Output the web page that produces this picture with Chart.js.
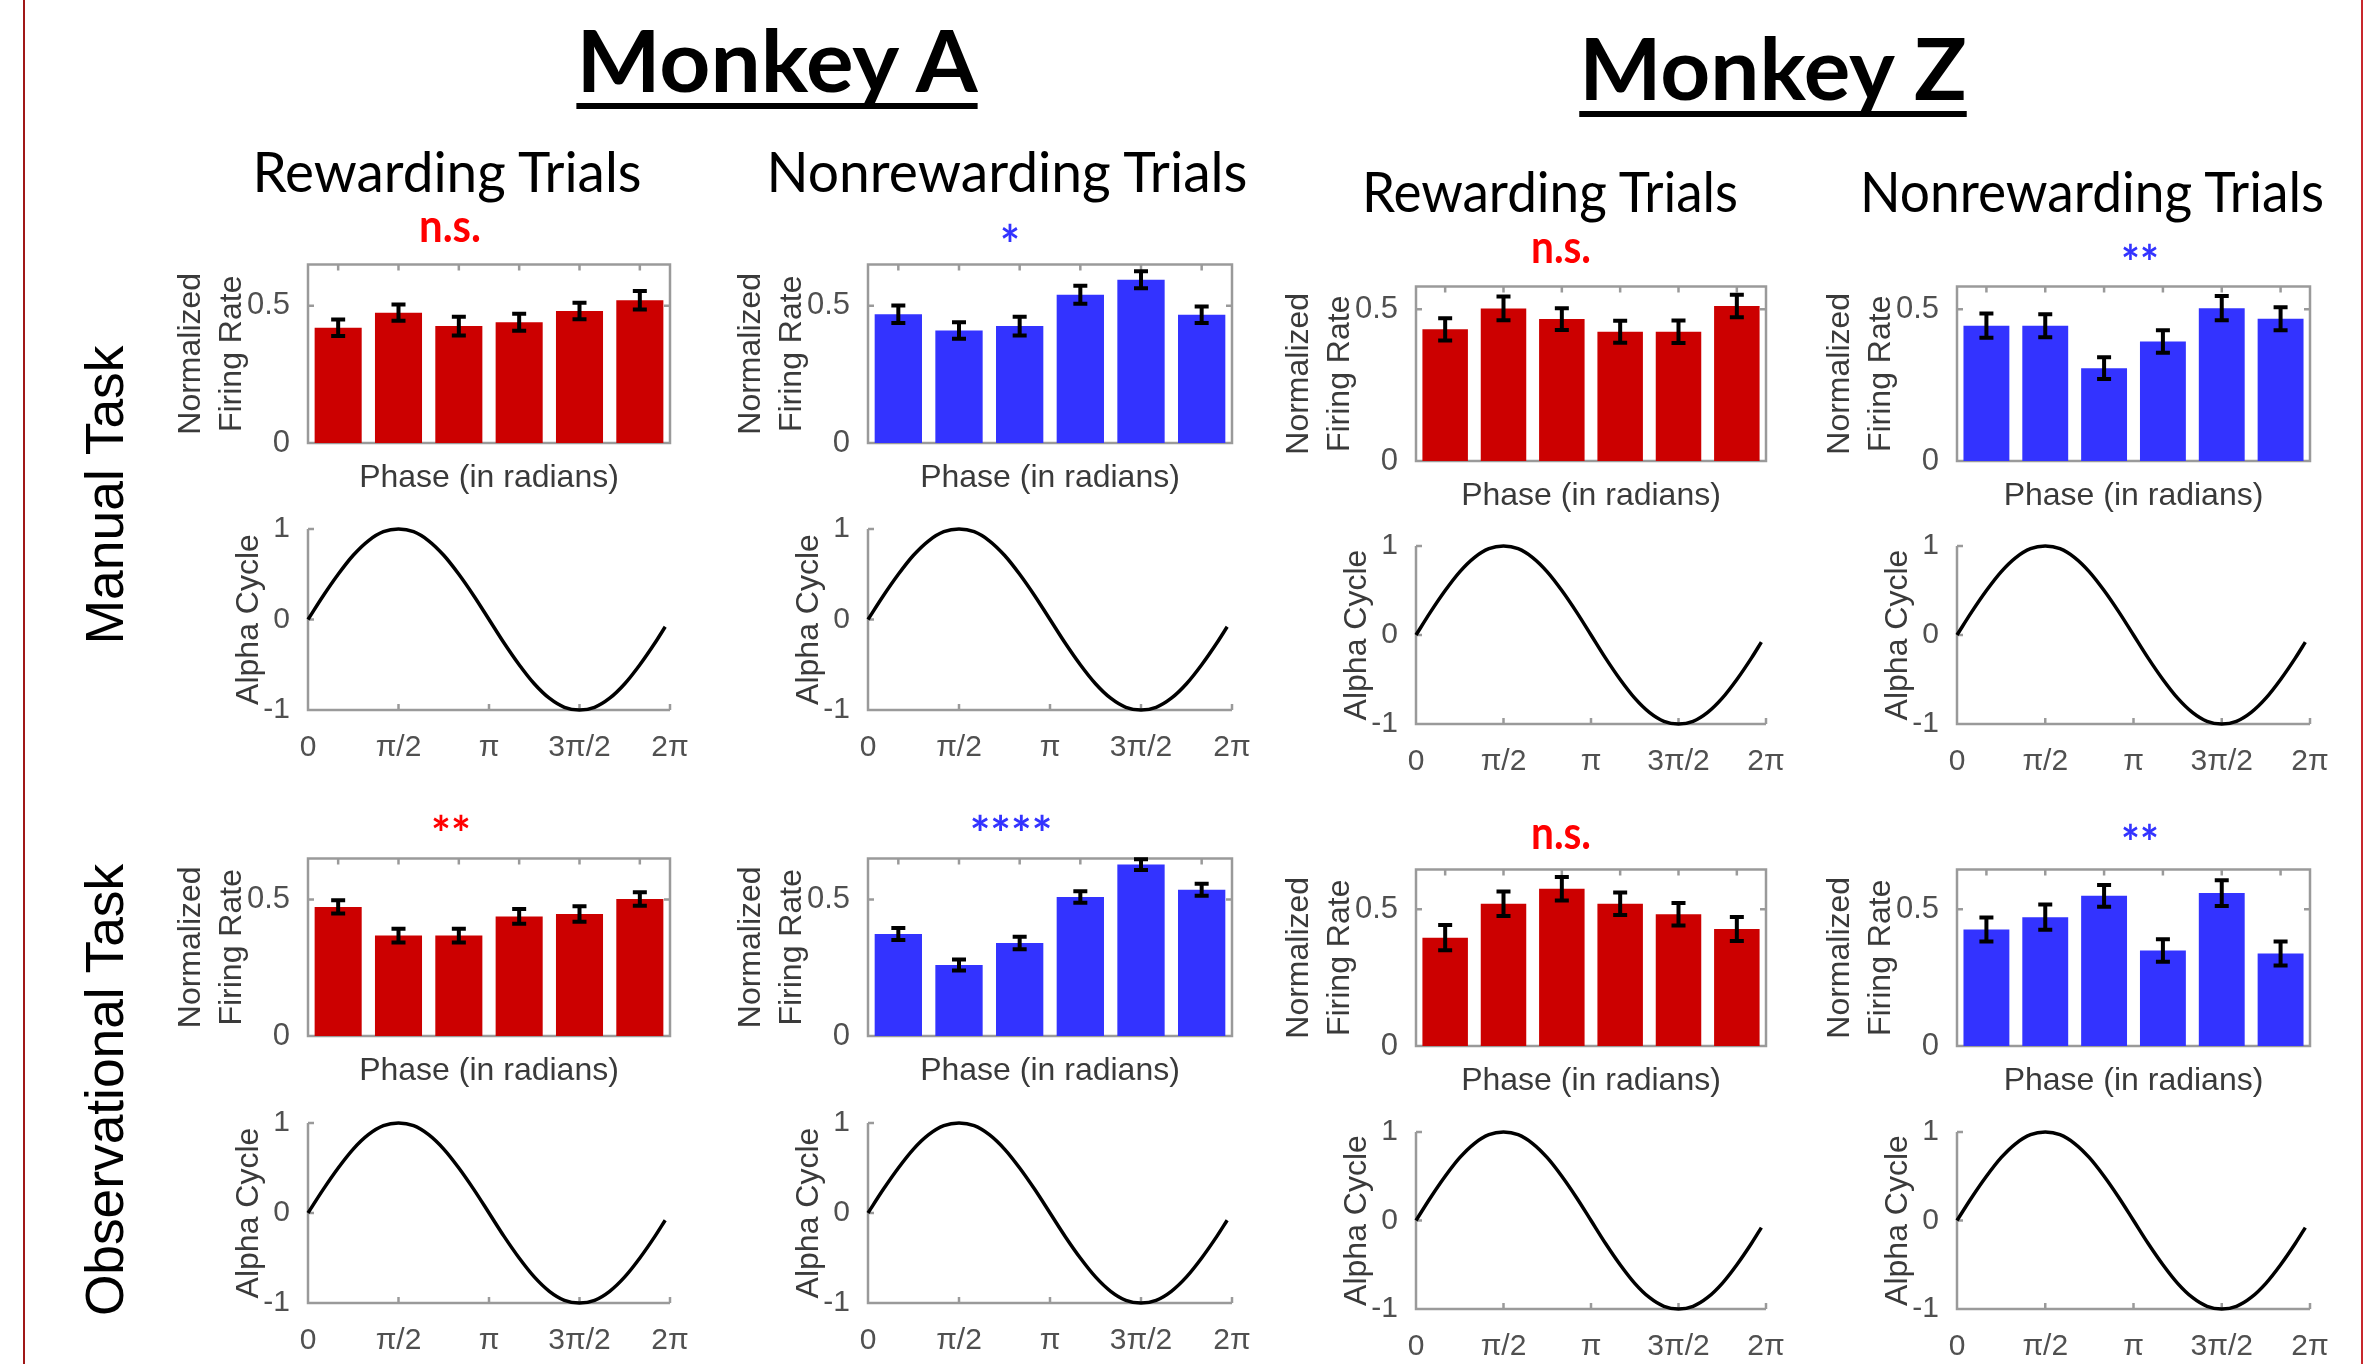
<!DOCTYPE html>
<html>
<head>
<meta charset="utf-8">
<script src="https://cdn.jsdelivr.net/npm/chart.js@4.4.1/dist/chart.umd.min.js"></script>
<style>
html, body { margin: 0; padding: 0; background: #fff; }
#fig { position: relative; width: 2379px; height: 1364px; overflow: hidden; background: #fff; }
#fig canvas { position: absolute; }
.lbl { position: absolute; white-space: nowrap; line-height: 1; }
.vline { position: absolute; top: 0; width: 2px; height: 1364px; }
</style>
</head>
<body>
<div id="fig"></div>
<script>
// Six phase bins of the alpha cycle (x tick labels are hidden on the bar plots)
const phaseBins = ['0–π/3', 'π/3–2π/3', '2π/3–π', 'π–4π/3', '4π/3–5π/3', '5π/3–2π'];

// Monkey A, manual task
const aManualRewardMean = [0.420, 0.475, 0.426, 0.440, 0.481, 0.520];
const aManualRewardErr = [0.030, 0.030, 0.034, 0.031, 0.030, 0.034];
const aManualNonrewardMean = [0.469, 0.410, 0.426, 0.540, 0.595, 0.467];
const aManualNonrewardErr = [0.032, 0.030, 0.034, 0.033, 0.031, 0.030];

// Monkey Z, manual task
const zManualRewardMean = [0.434, 0.503, 0.468, 0.426, 0.426, 0.511];
const zManualRewardErr = [0.037, 0.039, 0.036, 0.036, 0.037, 0.037];
const zManualNonrewardMean = [0.446, 0.446, 0.306, 0.394, 0.504, 0.469];
const zManualNonrewardErr = [0.040, 0.038, 0.036, 0.037, 0.040, 0.038];

// Monkey A, observational task
const aObsRewardMean = [0.473, 0.368, 0.368, 0.438, 0.447, 0.502];
const aObsRewardErr = [0.024, 0.025, 0.025, 0.027, 0.028, 0.025];
const aObsNonrewardMean = [0.374, 0.260, 0.341, 0.509, 0.628, 0.536];
const aObsNonrewardErr = [0.022, 0.020, 0.023, 0.021, 0.020, 0.022];

// Monkey Z, observational task
const zObsRewardMean = [0.396, 0.520, 0.575, 0.520, 0.482, 0.428];
const zObsRewardErr = [0.046, 0.045, 0.043, 0.041, 0.041, 0.044];
const zObsNonrewardMean = [0.426, 0.471, 0.549, 0.349, 0.559, 0.338];
const zObsNonrewardErr = [0.044, 0.046, 0.040, 0.041, 0.047, 0.044];

// y limits and ticks of the firing-rate plots
const yMaxMonkeyA = 0.65;
const yMaxMonkeyZManual = 0.575;
const yMaxMonkeyZObs = 0.645;
const barTicks = [0, 0.5];

// Alpha cycle reference curve
const alphaPhase = [0, 0.262, 0.524, 0.785, 1.047, 1.309, 1.571, 1.833, 2.094, 2.356, 2.618, 2.880,
  3.142, 3.403, 3.665, 3.927, 4.189, 4.451, 4.712, 4.974, 5.236, 5.498, 5.760, 6.021, 6.200];
const alphaCycle = [0, 0.26, 0.50, 0.71, 0.87, 0.97, 1, 0.97, 0.87, 0.71, 0.50, 0.26,
  0, -0.26, -0.50, -0.71, -0.87, -0.97, -1, -0.97, -0.87, -0.71, -0.50, -0.26, -0.08];
const phaseTickValues = [0, 1.5708, 3.1416, 4.7124, 6.2832];
const phaseTickLabels = ['0', 'π/2', 'π', '3π/2', '2π'];
const alphaTicks = [-1, 0, 1];

const RED = '#cc0000';
const BLUE = '#3333ff';
const AXIS_GREY = '#9a9a9a';
const TICK_TEXT = '#505050';
const LABEL_TEXT = '#3a3a3a';

Chart.defaults.font.family = "'Liberation Sans', Arial, sans-serif";
Chart.defaults.animation = false;

const fig = document.getElementById('fig');

function addCanvas(left, top, w, h) {
    const c = document.createElement('canvas');
    c.width = w;
    c.height = h;
    c.style.left = left + 'px';
    c.style.top = top + 'px';
    c.style.width = w + 'px';
    c.style.height = h + 'px';
    fig.appendChild(c);
    return c;
}

// MATLAB-like axes: box with inward ticks for bars, left/bottom axes for the sine
const matlabAxes = {
    id: 'matlabAxes',
    beforeDatasetsDraw(chart) {
        const { ctx, chartArea: a, scales: { x, y } } = chart;
        ctx.save();
        ctx.strokeStyle = AXIS_GREY;
        ctx.lineWidth = 2.5;
        ctx.beginPath();
        if (chart.config.type === 'bar') {
            ctx.rect(a.left, a.top, a.right - a.left, a.bottom - a.top);
            chart.getDatasetMeta(0).data.forEach(bar => {
                ctx.moveTo(bar.x, a.top);
                ctx.lineTo(bar.x, a.top + 6);
            });
            barTicks.forEach(v => {
                const yp = y.getPixelForValue(v);
                ctx.moveTo(a.left, yp); ctx.lineTo(a.left + 6, yp);
                ctx.moveTo(a.right, yp); ctx.lineTo(a.right - 6, yp);
            });
        } else {
            ctx.moveTo(a.left, a.top);
            ctx.lineTo(a.left, a.bottom);
            ctx.lineTo(a.right, a.bottom);
            phaseTickValues.forEach(v => {
                const xp = x.getPixelForValue(v);
                ctx.moveTo(xp, a.bottom); ctx.lineTo(xp, a.bottom - 6);
            });
            alphaTicks.forEach(v => {
                const yp = y.getPixelForValue(v);
                ctx.moveTo(a.left, yp); ctx.lineTo(a.left + 6, yp);
            });
        }
        ctx.stroke();
        ctx.restore();
    },
    afterDatasetsDraw(chart) {
        if (chart.config.type !== 'bar') return;
        const { ctx, scales: { y } } = chart;
        const ds = chart.data.datasets[0];
        ctx.save();
        ctx.strokeStyle = '#000';
        ctx.lineWidth = 4;
        ctx.beginPath();
        chart.getDatasetMeta(0).data.forEach((bar, i) => {
            const yt = y.getPixelForValue(ds.data[i] + ds.errors[i]);
            const yb = y.getPixelForValue(ds.data[i] - ds.errors[i]);
            ctx.moveTo(bar.x, yt); ctx.lineTo(bar.x, yb);
            ctx.moveTo(bar.x - 7, yt); ctx.lineTo(bar.x + 7, yt);
            ctx.moveTo(bar.x - 7, yb); ctx.lineTo(bar.x + 7, yb);
        });
        ctx.stroke();
        ctx.restore();
    }
};

function barPanel(px, py, pw, ph, means, errs, color, yMax) {
    const YW = 137, XH = 54, PT = 24, PR = 14;
    const c = addCanvas(px - YW, py - PT, YW + pw + PR, PT + ph + XH);
    new Chart(c, {
        type: 'bar',
        data: {
            labels: phaseBins,
            datasets: [{
                data: means,
                errors: errs,
                backgroundColor: color,
                barPercentage: 0.78,
                categoryPercentage: 1
            }]
        },
        options: {
            responsive: false,
            animation: false,
            layout: { padding: { top: PT, right: PR, left: 0, bottom: 0 } },
            plugins: { legend: { display: false }, tooltip: { enabled: false } },
            scales: {
                x: {
                    grid: { display: false },
                    border: { display: false },
                    ticks: { display: false },
                    title: { display: true, text: 'Phase (in radians)', color: LABEL_TEXT, font: { size: 32 }, padding: 0 },
                    afterFit: s => { s.height = XH; }
                },
                y: {
                    min: 0,
                    max: yMax,
                    grid: { display: false },
                    border: { display: false },
                    afterBuildTicks: s => { s.ticks = barTicks.map(v => ({ value: v })); },
                    ticks: { color: TICK_TEXT, font: { size: 31 }, padding: 10, callback: v => String(v) },
                    title: { display: true, text: ['Normalized', 'Firing Rate'], color: LABEL_TEXT, font: { size: 32, lineHeight: 1.28 }, padding: 0 },
                    afterFit: s => { s.width = YW; }
                }
            }
        },
        plugins: [matlabAxes]
    });
}

function sinePanel(px, py, pw, ph) {
    const YW = 78, XH = 52, PT = 24, PR = 34;
    const c = addCanvas(px - YW, py - PT, YW + pw + PR, PT + ph + XH);
    new Chart(c, {
        type: 'line',
        data: {
            datasets: [{
                data: alphaPhase.map((p, i) => ({ x: p, y: alphaCycle[i] })),
                borderColor: '#000',
                borderWidth: 3.5,
                pointRadius: 0,
                cubicInterpolationMode: 'monotone',
                clip: 8
            }]
        },
        options: {
            responsive: false,
            animation: false,
            layout: { padding: { top: PT, right: PR, left: 0, bottom: 0 } },
            plugins: { legend: { display: false }, tooltip: { enabled: false } },
            scales: {
                x: {
                    type: 'linear',
                    min: 0,
                    max: phaseTickValues[phaseTickValues.length - 1],
                    grid: { display: false },
                    border: { display: false },
                    afterBuildTicks: s => { s.ticks = phaseTickValues.map(v => ({ value: v })); },
                    ticks: {
                        color: TICK_TEXT, font: { size: 30 }, padding: 12, maxRotation: 0, autoSkip: false,
                        callback: v => phaseTickLabels[phaseTickValues.indexOf(v)]
                    },
                    afterFit: s => { s.height = XH; }
                },
                y: {
                    min: -1,
                    max: 1,
                    grid: { display: false },
                    border: { display: false },
                    afterBuildTicks: s => { s.ticks = alphaTicks.map(v => ({ value: v })); },
                    ticks: { color: TICK_TEXT, font: { size: 30 }, padding: 10, callback: v => String(v) },
                    title: { display: true, text: 'Alpha Cycle', color: LABEL_TEXT, font: { size: 32 }, padding: 0 },
                    afterFit: s => { s.width = YW; }
                }
            }
        },
        plugins: [matlabAxes]
    });
}

// panel geometry (plot areas, px)
const colA1 = { x: 308, w: 362 }, colA2 = { x: 868, w: 364 };
const colZ1 = { x: 1416, w: 350 }, colZ2 = { x: 1957, w: 353 };

barPanel(colA1.x, 260, colA1.w, 183, aManualRewardMean, aManualRewardErr, RED, yMaxMonkeyA);
barPanel(colA2.x, 260, colA2.w, 183, aManualNonrewardMean, aManualNonrewardErr, BLUE, yMaxMonkeyA);
barPanel(colZ1.x, 282, colZ1.w, 179, zManualRewardMean, zManualRewardErr, RED, yMaxMonkeyZManual);
barPanel(colZ2.x, 282, colZ2.w, 179, zManualNonrewardMean, zManualNonrewardErr, BLUE, yMaxMonkeyZManual);
barPanel(colA1.x, 854, colA1.w, 182, aObsRewardMean, aObsRewardErr, RED, yMaxMonkeyA);
barPanel(colA2.x, 854, colA2.w, 182, aObsNonrewardMean, aObsNonrewardErr, BLUE, yMaxMonkeyA);
barPanel(colZ1.x, 865, colZ1.w, 181, zObsRewardMean, zObsRewardErr, RED, yMaxMonkeyZObs);
barPanel(colZ2.x, 865, colZ2.w, 181, zObsNonrewardMean, zObsNonrewardErr, BLUE, yMaxMonkeyZObs);

sinePanel(colA1.x, 525, colA1.w, 185);
sinePanel(colA2.x, 525, colA2.w, 185);
sinePanel(colZ1.x, 542, colZ1.w, 182);
sinePanel(colZ2.x, 542, colZ2.w, 182);
sinePanel(colA1.x, 1119, colA1.w, 184);
sinePanel(colA2.x, 1119, colA2.w, 184);
sinePanel(colZ1.x, 1128, colZ1.w, 181);
sinePanel(colZ2.x, 1128, colZ2.w, 181);

// text labels
const LATO = "Lato, 'Noto Sans', sans-serif";
const LIB = "'Liberation Sans', Arial, sans-serif";
const LATO_BASE = 0.887;

function addLabel(o) {
    const d = document.createElement('div');
    d.className = 'lbl';
    d.textContent = o.text;
    d.style.fontFamily = o.family || LATO;
    d.style.fontSize = o.size + 'px';
    d.style.fontWeight = o.weight || 400;
    d.style.color = o.color || '#000';
    if (o.underline) {
        d.style.textDecoration = 'underline';
        d.style.textDecorationThickness = '6px';
        d.style.textUnderlineOffset = o.underline + 'px';
        d.style.textDecorationSkipInk = 'none';
    }
    fig.appendChild(d);
    const s = o.w ? o.w / d.offsetWidth : 1;
    d.style.left = o.cx + 'px';
    if (o.rotate) {
        d.style.top = o.cy + 'px';
        d.style.transform = `translate(-50%, -50%) rotate(-90deg) scaleX(${s})`;
    } else {
        d.style.top = (o.base - LATO_BASE * o.size) + 'px';
        d.style.transform = `translateX(-50%) scaleX(${s})`;
    }
}

[
    { text: 'Monkey A', size: 86, weight: 700, cx: 777, base: 92, w: 401, underline: 11 },
    { text: 'Monkey Z', size: 86, weight: 700, cx: 1773, base: 100, w: 387, underline: 11 },
    { text: 'Rewarding Trials', size: 56, cx: 447, base: 193, w: 389 },
    { text: 'Nonrewarding Trials', size: 56, cx: 1007, base: 193, w: 481 },
    { text: 'Rewarding Trials', size: 56, cx: 1550, base: 213, w: 376 },
    { text: 'Nonrewarding Trials', size: 56, cx: 2092, base: 213, w: 464 },
    { text: 'n.s.', size: 46, weight: 700, color: '#ff0000', cx: 450, base: 243, w: 62 },
    { text: '*', size: 54, weight: 700, color: BLUE, cx: 1010, base: 265, w: 20 },
    { text: 'n.s.', size: 46, weight: 700, color: '#ff0000', cx: 1561, base: 264, w: 60 },
    { text: '**', size: 48, weight: 700, color: BLUE, cx: 2140, base: 281, w: 38 },
    { text: '**', size: 48, weight: 700, color: '#ff0000', cx: 451, base: 852, w: 40 },
    { text: '****', size: 48, weight: 700, color: BLUE, cx: 1011, base: 852, w: 83 },
    { text: 'n.s.', size: 46, weight: 700, color: '#ff0000', cx: 1561, base: 850, w: 60 },
    { text: '**', size: 48, weight: 700, color: BLUE, cx: 2140, base: 861, w: 38 },
    { text: 'Manual Task', family: LIB, size: 54, cx: 104, cy: 495, w: 299, rotate: true },
    { text: 'Observational Task', family: LIB, size: 54, cx: 104, cy: 1090, w: 452, rotate: true }
].forEach(addLabel);

// red frame lines at the left and right edges
[{ x: 23, c: '#a01818' }, { x: 2361, c: '#c8282d' }].forEach(l => {
    const d = document.createElement('div');
    d.className = 'vline';
    d.style.left = l.x + 'px';
    d.style.background = l.c;
    fig.appendChild(d);
});
</script>
</body>
</html>
